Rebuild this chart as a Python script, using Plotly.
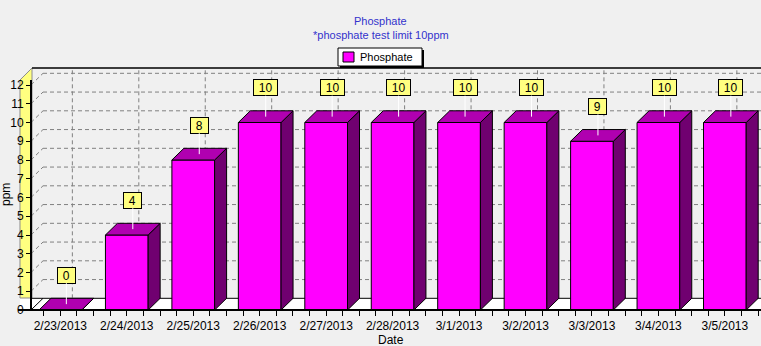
import plotly.graph_objects as go

# ---- data ----
dates = ["2/23/2013", "2/24/2013", "2/25/2013", "2/26/2013", "2/27/2013",
         "2/28/2013", "3/1/2013", "3/2/2013", "3/3/2013", "3/4/2013", "3/5/2013"]
phosphate = [0, 4, 8, 10, 10, 10, 10, 10, 9, 10, 10]
y_ticks = list(range(0, 13))

# ---- page / plot geometry (pixels) ----
W, H = 761, 346
L, R, T, B = 31, 761, 68, 310
CAT_PX = 66.45          # pixels per category
FIRST_PX = 60.35        # pixel x of the first category centre
UNIT_PX = 18.75         # pixels per ppm
DEPTH_X, DEPTH_Y = 12.0, 11.7   # 3D depth offset in pixels

x_lo = -(FIRST_PX - L) / CAT_PX
x_hi = x_lo + (R - L) / CAT_PX
y_hi = (B - T) / UNIT_PX
DX = DEPTH_X / CAT_PX
DY = DEPTH_Y / UNIT_PX
BAR_W = 42.7 / CAT_PX

FRONT = "#ff00ff"
TOP = "#b000b0"
SIDE = "#700070"
WALL = "#ffff80"
BG = "#f0f0f0"


def px(x):
    return (x - L) / (R - L)


def py(y):
    return (B - y) / (B - T)


n = len(dates)
xs = list(range(n))

fig = go.Figure()

# front faces of the bars
fig.add_trace(go.Bar(
    x=xs, y=phosphate, width=BAR_W, base=0,
    marker=dict(color=FRONT, line=dict(color="black", width=1)),
    name="Phosphate", showlegend=False, hoverinfo="skip",
))

# top and right-side faces
top_x, top_y, side_x, side_y = [], [], [], []
for i, v in zip(xs, phosphate):
    x0, x1 = i - BAR_W / 2, i + BAR_W / 2
    top_x += [x0, x1, x1 + DX, x0 + DX, x0, None]
    top_y += [v, v, v + DY, v + DY, v, None]
    side_x += [x1, x1 + DX, x1 + DX, x1, x1, None]
    side_y += [0, DY, v + DY, v, 0, None]

fig.add_trace(go.Scatter(x=side_x, y=side_y, mode="lines", fill="toself",
                         fillcolor=SIDE, line=dict(color="black", width=1),
                         showlegend=False, hoverinfo="skip"))
fig.add_trace(go.Scatter(x=top_x, y=top_y, mode="lines", fill="toself",
                         fillcolor=TOP, line=dict(color="black", width=1),
                         showlegend=False, hoverinfo="skip"))

shapes = []
grid = dict(color="#808080", width=1, dash="4px,3px")

# floor strip
shapes.append(dict(type="rect", xref="paper", yref="paper", layer="below",
                   x0=px(20), x1=px(761), y0=py(310), y1=py(310 - DEPTH_Y),
                   fillcolor="white", line=dict(width=0)))

# yellow side wall (under the tick labels)
wall_pts = [(20, 80), (32, 68), (32, 298), (20, 298)]
path = "M " + " L ".join(f"{px(a):.5f},{py(b):.5f}" for a, b in wall_pts) + " Z"
shapes.append(dict(type="path", xref="paper", yref="paper", layer="below",
                   path=path, fillcolor=WALL, line=dict(color="#8c8c8c", width=1)))

# back-wall horizontal grid lines plus their diagonal on the side wall
for v in y_ticks[1:]:
    shapes.append(dict(type="line", xref="x", yref="y", layer="below",
                       x0=x_lo + DX, x1=x_hi + 1, y0=v + DY, y1=v + DY, line=grid))
    shapes.append(dict(type="line", xref="x", yref="y", layer="below",
                       x0=x_lo, x1=x_lo + DX, y0=v, y1=v + DY, line=grid))
shapes.append(dict(type="line", xref="x", yref="y", layer="below",
                   x0=x_lo, x1=x_lo + DX, y0=0, y1=DY,
                   line=dict(color="black", width=1)))

# back-wall vertical grid lines at category centres
for i in xs:
    shapes.append(dict(type="line", xref="x", yref="y", layer="below",
                       x0=i + DX, x1=i + DX, y0=DY, y1=y_hi, line=grid))

# back floor edge
shapes.append(dict(type="line", xref="paper", yref="paper", layer="below",
                   x0=px(31), x1=px(761), y0=py(310 - DEPTH_Y), y1=py(310 - DEPTH_Y),
                   line=dict(color="black", width=1)))

# frame lines
shapes.append(dict(type="line", xref="paper", yref="paper", layer="above",
                   x0=px(32), x1=px(761), y0=py(68), y1=py(68),
                   line=dict(color="black", width=1.5)))
shapes.append(dict(type="line", xref="paper", yref="paper", layer="above",
                   x0=px(31), x1=px(31), y0=py(80), y1=py(310),
                   line=dict(color="black", width=2)))
shapes.append(dict(type="line", xref="paper", yref="paper", layer="above",
                   x0=px(18), x1=px(761), y0=py(310), y1=py(310),
                   line=dict(color="black", width=2)))

# legend box with drop shadow
shapes.append(dict(type="rect", xref="paper", yref="paper", layer="above",
                   x0=px(340), x1=px(424), y0=py(50), y1=py(68),
                   fillcolor="black", line=dict(width=0)))
shapes.append(dict(type="rect", xref="paper", yref="paper", layer="above",
                   x0=px(338), x1=px(422), y0=py(48), y1=py(66),
                   fillcolor="white", line=dict(color="black", width=1)))
shapes.append(dict(type="rect", xref="paper", yref="paper", layer="above",
                   x0=px(343), x1=px(354), y0=py(52), y1=py(62),
                   fillcolor=FRONT, line=dict(color="black", width=1)))

annotations = []
font_txt = "Liberation Sans, Arial, sans-serif"

# value labels over the bars, joined to the top face by a white leader
for i, v in zip(xs, phosphate):
    txt = str(v)
    annotations.append(dict(
        x=i + DX / 2, y=v + DY / 2, xref="x", yref="y", text=txt,
        showarrow=True, arrowhead=0, arrowwidth=1, arrowcolor="white",
        ax=0, ay=-29, standoff=0,
        font=dict(family=font_txt, size=12, color="black"),
        bgcolor=WALL, bordercolor="black", borderwidth=1, borderpad=1,
        width=6.7 * len(txt) + 8, height=13,
    ))


def label(x, y, text, size, color="black", xanchor="center", angle=0):
    annotations.append(dict(x=px(x), y=py(y), xref="paper", yref="paper",
                            xanchor=xanchor, yanchor="middle", textangle=angle,
                            text=text, showarrow=False,
                            font=dict(family=font_txt, size=size, color=color)))


# titles
label(380.5, 21, "Phosphate", 11, "#3333cc")
label(380.5, 35, "*phosphate test limit 10ppm", 11, "#3333cc")
# legend text
label(358, 57, "Phosphate", 11, xanchor="left")
# axis titles
label(390.5, 340, "Date", 12)
label(6, 195, "ppm", 12, angle=-90)

# x ticks every quarter category, labelled at the category centres
tickvals, ticktext = [], []
k = int(x_lo * 4) - 1
while k / 4 <= x_hi:
    t = k / 4
    if x_lo <= t <= x_hi:
        tickvals.append(t)
        ticktext.append(dates[k // 4] if k % 4 == 0 and 0 <= k // 4 < n else "")
    k += 1

fig.update_layout(
    width=W, height=H,
    margin=dict(l=L, r=W - R, t=T, b=H - B, pad=0),
    paper_bgcolor=BG, plot_bgcolor=BG,
    showlegend=False,
    shapes=shapes, annotations=annotations,
    font=dict(family=font_txt, size=12, color="black"),
    xaxis=dict(range=[x_lo, x_hi], tickvals=tickvals, ticktext=ticktext,
               ticks="outside", ticklen=5, tickcolor="black", tickwidth=1,
               showgrid=False, zeroline=False, showline=False, fixedrange=True,
               tickfont=dict(size=12, color="black")),
    yaxis=dict(range=[0, y_hi], tickvals=y_ticks, ticks="outside", ticklen=4,
               tickcolor="black", tickwidth=1, showgrid=False, zeroline=False,
               showline=False, fixedrange=True,
               tickfont=dict(size=12, color="black")),
)

fig.write_html("out.html")
